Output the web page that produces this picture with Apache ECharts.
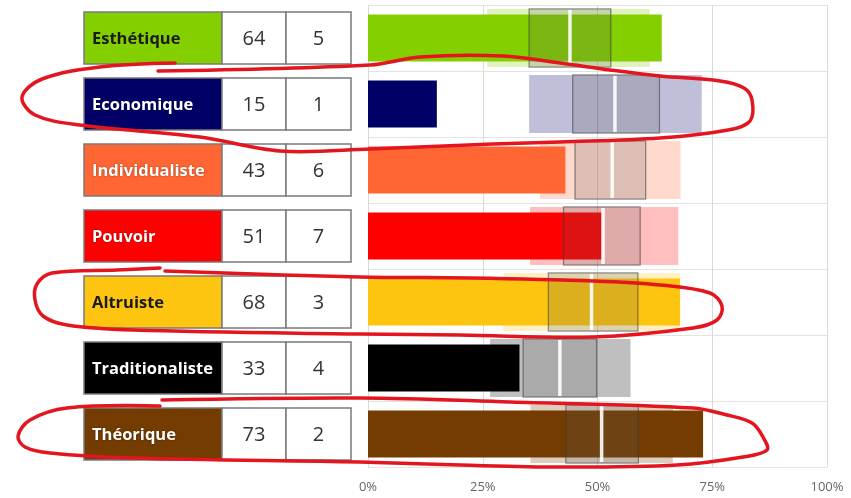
<!DOCTYPE html>
<html>
<head>
<meta charset="utf-8">
<script src="https://cdn.jsdelivr.net/npm/echarts@6/dist/echarts.min.js"></script>
<style>
html,body{margin:0;padding:0;background:#fff;}
#chart{width:851px;height:498px;}
</style>
</head>
<body>
<div id="chart"></div>
<script>
// ---- data ----
const categories = ['Esthétique','Economique','Individualiste','Pouvoir','Altruiste','Traditionaliste','Théorique'];
const scores = [64, 15, 43, 51, 68, 33, 73];
const ranks = [5, 1, 6, 7, 3, 4, 2];
const fillColors = ['#84cf00','#000066','#ff6633','#ff0000','#fdc50f','#000000','#743c00'];
const labelColors = ['#1a1a1a','#ffffff','#ffffff','#ffffff','#1a1a1a','#ffffff','#ffffff'];
const rangeLow  = [26.0, 35.1, 37.5, 35.3, 29.5, 26.6, 35.4];
const rangeHigh = [61.4, 72.7, 68.1, 67.6, 68.0, 57.2, 66.4];
const boxLow    = [35.1, 44.6, 45.1, 42.6, 39.3, 33.8, 43.1];
const boxHigh   = [52.9, 63.5, 60.5, 59.3, 58.8, 49.8, 58.9];
const medians   = [44.0, 53.8, 53.2, 51.2, 48.7, 41.8, 50.9];

// hand-drawn annotation loops (decoration, pixel space)
const loops = [
  [[175,63],[100,67],[42,79],[22,97],[35,115],[80,125],[200,137],[280,151],[370,149],[493,144],[560,142],[660,138],[728,130],[750,121],[752,100],[744,88],[720,81],[660,76],[610,70],[560,63],[503,56],[420,57],[370,65],[158,71]],
  [[160,268],[117,270],[52,273],[37,284],[35,300],[43,316],[67,325],[133,330],[360,334],[460,335],[593,337],[693,328],[717,320],[722,306],[710,293],[660,285],[593,281],[470,278],[360,277],[165,271]],
  [[160,406],[67,408],[30,420],[18,436],[25,447],[50,453],[133,458],[360,462],[460,465],[560,467],[677,465],[743,457],[767,450],[763,437],[752,423],[727,415],[693,408],[510,402],[360,398],[162,400]]
];

function hexToRgba(hex, a){
  const n = parseInt(hex.slice(1),16);
  return 'rgba(' + ((n>>16)&255) + ',' + ((n>>8)&255) + ',' + (n&255) + ',' + a + ')';
}

const chart = echarts.init(document.getElementById('chart'), null, {renderer:'canvas'});

const tableLeft = 84;
const colW = [138, 64, 65];
const cellH = 52;

const option = {
  animation: false,
  backgroundColor: '#ffffff',
  grid: {left: 368, right: 24, top: 5, bottom: 31},
  xAxis: {
    type: 'value', min: 0, max: 100, interval: 25,
    axisLine: {show: false}, axisTick: {show: false},
    splitLine: {show: true, lineStyle: {color: '#d9d9d9', width: 1}},
    axisLabel: {formatter: '{value}%', color: '#666666', fontSize: 13, fontFamily: 'Open Sans', margin: 14}
  },
  yAxis: {
    type: 'category', data: categories, inverse: true,
    axisLine: {show: false}, axisTick: {show: false}, axisLabel: {show: false},
    splitLine: {show: true, lineStyle: {color: '#e3e3e3', width: 1}}
  },
  series: [
    {
      type: 'custom', name: 'table', clip: false, z: 5,
      data: categories.map((c, i) => [0, i]),
      encode: {x: 0, y: 1},
      renderItem: function(params, api){
        const i = api.value(1);
        const cy = api.coord([0, i])[1];
        const top = cy - cellH/2;
        const x0 = tableLeft, x1 = x0 + colW[0], x2 = x1 + colW[1], x3 = x2 + colW[2];
        const border = {stroke: '#7a7a7a', lineWidth: 1.5};
        return {
          type: 'group',
          children: [
            {type:'rect', shape:{x:x0, y:top, width:colW[0], height:cellH}, style:Object.assign({fill: fillColors[i]}, border)},
            {type:'rect', shape:{x:x1, y:top, width:colW[1], height:cellH}, style:Object.assign({fill: '#ffffff'}, border)},
            {type:'rect', shape:{x:x2, y:top, width:colW[2], height:cellH}, style:Object.assign({fill: '#ffffff'}, border)},
            {type:'text', style:{text: categories[i], x: x0 + 8, y: cy + 1, fill: labelColors[i],
              fontSize: 16.5, fontWeight: 'bold', fontFamily: 'Open Sans', align: 'left', verticalAlign: 'middle',
              textShadowColor: labelColors[i] === '#ffffff' ? 'rgba(0,0,0,0.45)' : 'rgba(0,0,0,0)', textShadowBlur: 2}},
            {type:'text', style:{text: String(scores[i]), x: (x1 + x2)/2, y: cy + 1, fill: '#333333',
              fontSize: 20, fontFamily: 'Open Sans', align: 'center', verticalAlign: 'middle'}},
            {type:'text', style:{text: String(ranks[i]), x: (x2 + x3)/2, y: cy + 1, fill: '#333333',
              fontSize: 20, fontFamily: 'Open Sans', align: 'center', verticalAlign: 'middle'}}
          ]
        };
      }
    },
    {
      type: 'custom', name: 'range', z: 1,
      data: categories.map((c, i) => [i, rangeLow[i], rangeHigh[i]]),
      encode: {y: 0, x: [1, 2]},
      renderItem: function(params, api){
        const i = api.value(0);
        const p1 = api.coord([api.value(1), i]);
        const p2 = api.coord([api.value(2), i]);
        const h = api.size([0, 1])[1] * 0.88;
        return {type:'rect', shape:{x:p1[0], y:p1[1]-h/2, width:p2[0]-p1[0], height:h},
          style:{fill: hexToRgba(fillColors[i], 0.25)}};
      }
    },
    {
      type: 'bar', name: 'score', z: 2,
      data: scores.map((v, i) => ({value: v, itemStyle: {color: fillColors[i]}})),
      barWidth: '71%'
    },
    {
      type: 'custom', name: 'box', z: 3,
      data: categories.map((c, i) => [i, boxLow[i], boxHigh[i], medians[i]]),
      encode: {y: 0, x: [1, 2, 3]},
      renderItem: function(params, api){
        const i = api.value(0);
        const p1 = api.coord([api.value(1), i]);
        const p2 = api.coord([api.value(2), i]);
        const pm = api.coord([api.value(3), i]);
        const h = api.size([0, 1])[1] * 0.88;
        return {type:'group', children:[
          {type:'rect', shape:{x:p1[0], y:p1[1]-h/2, width:p2[0]-p1[0], height:h},
            style:{fill:'rgba(90,90,90,0.2)', stroke:'rgba(60,60,60,0.55)', lineWidth:1.3}},
          {type:'line', shape:{x1:pm[0], y1:pm[1]-h/2+1, x2:pm[0], y2:pm[1]+h/2-1},
            style:{stroke:'rgba(255,255,255,0.9)', lineWidth:3.5}}
        ]};
      }
    }
  ],
  graphic: loops.map(pts => ({
    type: 'polyline', z: 100, silent: true,
    shape: {points: pts, smooth: 0.35},
    style: {stroke: '#e3161f', lineWidth: 3.5, fill: null, lineCap: 'round', lineJoin: 'round'}
  }))
};

chart.setOption(option);
</script>
</body>
</html>
